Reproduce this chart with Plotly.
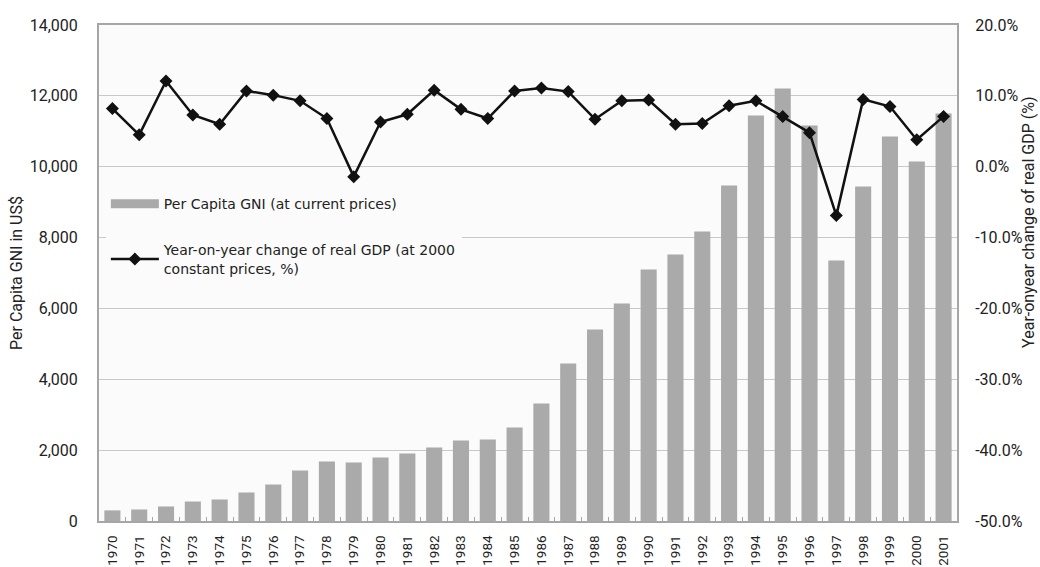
import plotly.graph_objects as go

# Years on the category axis
years = [str(y) for y in range(1970, 2002)]

# Per capita GNI, US$ at current prices
gni_per_capita = [300, 325, 410, 550, 607, 805, 1030, 1425, 1680, 1650,
                  1790, 1905, 2075, 2270, 2300, 2640, 3320, 4445, 5405, 6140,
                  7100, 7520, 8170, 9470, 11445, 12210, 11160, 7355, 9440, 10850,
                  10150, 11500]

# Year-on-year change of real GDP (%), 2000 constant prices
gdp_growth = [8.2, 4.5, 12.1, 7.3, 6.0, 10.7, 10.1, 9.3, 6.8, -1.4,
              6.3, 7.4, 10.8, 8.1, 6.8, 10.7, 11.1, 10.6, 6.7, 9.3,
              9.4, 6.0, 6.1, 8.6, 9.3, 7.1, 4.8, -6.9, 9.5, 8.5,
              3.8, 7.1]

# Right-axis ticks (plain hyphen for negatives)
growth_tick_vals = [20, 10, 0, -10, -20, -30, -40, -50]
growth_tick_text = ["20.0%", "10.0%", "0.0%", "-10.0%", "-20.0%", "-30.0%", "-40.0%", "-50.0%"]

bar_name = "Per Capita GNI (at current prices)"
line_name = "Year-on-year change of real GDP (at 2000<br>constant prices, %)"

BAR_COLOR = "#aaaaaa"
AXIS_COLOR = "#a6a6a6"
GRID_COLOR = "#c8c8c8"
TEXT_COLOR = "#222222"
TICK_FONT = dict(family="Roboto, Arial, sans-serif", size=16, color=TEXT_COLOR)

fig = go.Figure()

fig.add_trace(go.Bar(
    x=years, y=gni_per_capita, name=bar_name,
    marker=dict(color=BAR_COLOR, line=dict(width=0)),
    showlegend=False, yaxis="y",
))

# wide swatch for the bar series in the legend
fig.add_trace(go.Scatter(
    x=[years[0]], y=[None], mode="lines", name=bar_name,
    line=dict(color=BAR_COLOR, width=9),
    legendgroup="gni", showlegend=True, hoverinfo="skip",
))

fig.add_trace(go.Scatter(
    x=years, y=gdp_growth, name=line_name, yaxis="y2",
    mode="lines+markers",
    line=dict(color="#111111", width=2.5),
    marker=dict(symbol="diamond", size=10, color="#111111"),
    legendgroup="gdp",
))

fig.update_layout(
    width=1040, height=567,
    margin=dict(l=99, r=83, t=25, b=46),
    paper_bgcolor="white",
    plot_bgcolor="#fbfbfb",
    bargap=0.4,
    font=dict(family="Roboto, Arial, sans-serif", size=16, color=TEXT_COLOR),
    xaxis=dict(
        type="category",
        categoryorder="array", categoryarray=years,
        range=[-0.5, len(years) - 0.5],
        automargin=False,
        tickangle=-90,
        tickfont=dict(family="Roboto, Arial, sans-serif", size=13.5, color=TEXT_COLOR),
        showline=True, linecolor=AXIS_COLOR, linewidth=2, mirror=True,
        ticks="inside", ticklen=4, tickcolor=AXIS_COLOR, tickson="boundaries",
        showgrid=False,
        ticklabelstandoff=7,
    ),
    yaxis=dict(
        range=[0, 14000], dtick=2000, tickformat=",",
        automargin=False,
        tickfont=TICK_FONT,
        showline=True, linecolor=AXIS_COLOR, linewidth=2,
        showgrid=True, gridcolor=GRID_COLOR, gridwidth=1,
        zeroline=False,
        ticks="", ticklabelstandoff=16,
        title=dict(text="Per Capita GNI in US$", standoff=3,
                   font=dict(family="Roboto, Arial, sans-serif", size=16, color=TEXT_COLOR)),
    ),
    yaxis2=dict(
        range=[-50, 20],
        tickmode="array", tickvals=growth_tick_vals, ticktext=growth_tick_text,
        overlaying="y", side="right",
        automargin=False,
        tickfont=TICK_FONT,
        showline=True, linecolor=AXIS_COLOR, linewidth=2,
        showgrid=False, zeroline=False,
        ticks="", ticklabelstandoff=13,
    ),
    legend=dict(
        x=0.008, xanchor="left", y=0.671, yanchor="top",
        bgcolor="#fbfbfb",
        font=dict(family="DejaVu Sans, sans-serif", size=14, color=TEXT_COLOR),
        itemwidth=48,
        traceorder="grouped",
        tracegroupgap=25,
    ),
    annotations=[dict(
        text="Year-onyear change of real GDP (%)",
        xref="paper", yref="paper", x=1.0, y=0.603,
        xshift=72, textangle=-90, showarrow=False,
        xanchor="center", yanchor="middle",
        font=dict(family="Roboto, Arial, sans-serif", size=16, color=TEXT_COLOR),
    )],
)

fig.write_html("out.html")
